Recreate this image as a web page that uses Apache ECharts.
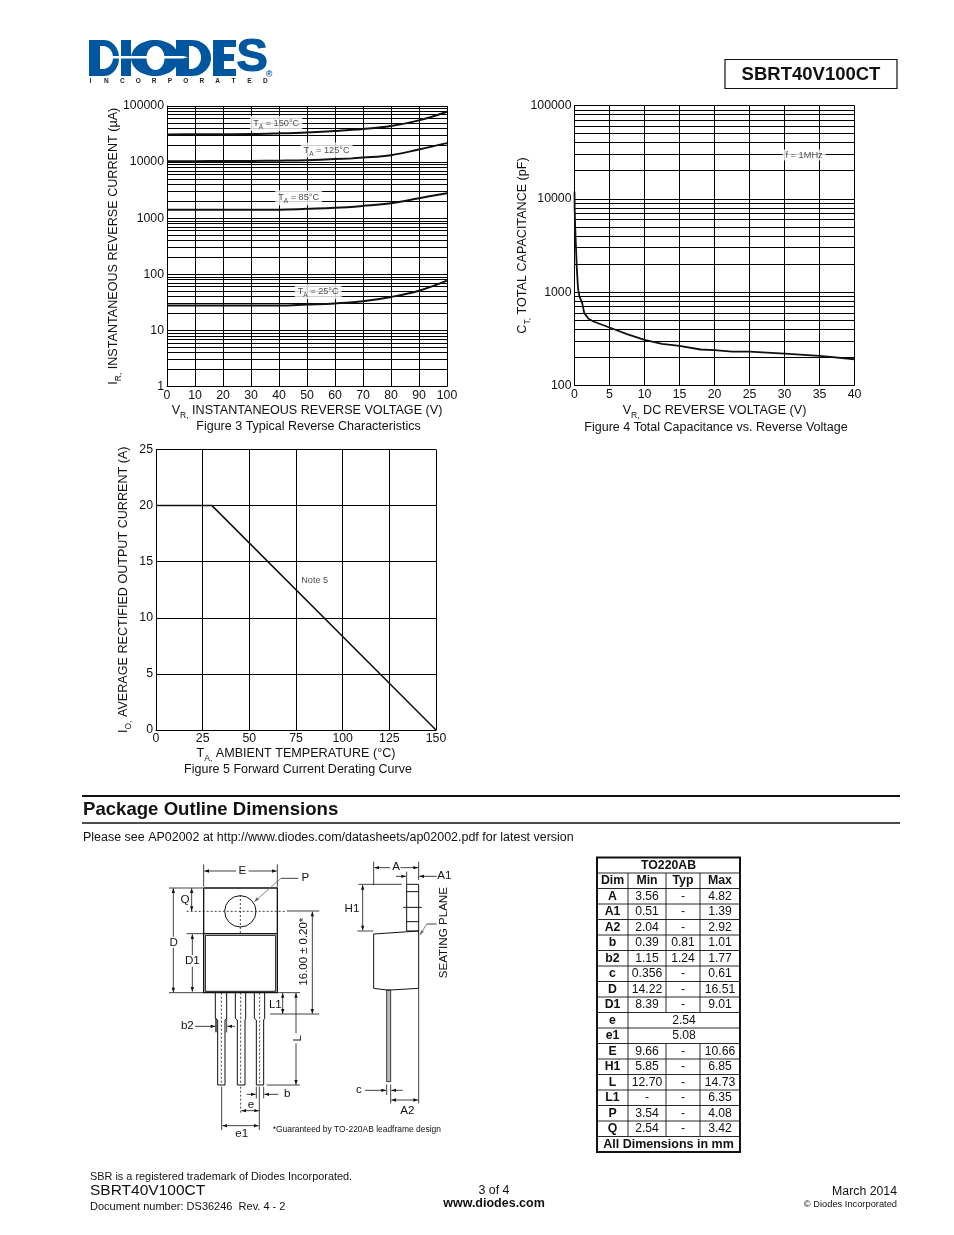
<!DOCTYPE html>
<html><head><meta charset="utf-8">
<style>html,body{margin:0;padding:0;background:#fff}#c{width:954px;height:1235px}</style>
<script src="https://cdn.jsdelivr.net/npm/echarts@6/dist/echarts.min.js"></script>
</head><body><div id="c"></div>
<script>
// ---- Figure 3 data ----
const fig3Volts = [0,10,20,30,40,50,60,70,80,90,100];
const fig3T150 = [31200,31300,31400,31600,32500,33800,35800,38800,44000,55500,79200];
const fig3T125 = [10400,10400,10450,10500,10600,10800,11300,12100,13300,16800,21800];
const fig3T85  = [1410,1410,1410,1410,1420,1470,1530,1660,1850,2275,2795];
const fig3T25  = [27.9,27.9,27.9,27.9,27.9,29,30.3,33,39.4,51,77];
const fig3Labels = [[39,49000,'150'],[57,16400,'125'],[47,2320,'85'],[54,49,'25']];
// ---- Figure 4 data ----
const fig4Volts = [0,0.02,0.1,0.2,0.33,0.5,0.7,1.1,1.4,2,2.7,5,7.5,10,12.5,15,18,20,22.5,25,30,35,40];
const fig4Cap   = [12000,8000,5000,3200,1800,1100,900,763,596,518,485,418,355,308,279,266,243,239,231,231,220,208,191];
const fig4Label = [[32.8,29500,'f = 1MHz']];
// ---- Figure 5 data ----
const fig5Temp = [0,30,150];
const fig5Amps = [20,20,0];
const fig5Label = [[85,13.3,'Note 5']];
// ---- Axis tick text / log grid ----
const minorMultipliers = [2,3,4,5,6,7,8,9];
// ---- Table ----
const tableRows = [
 ['A','3.56','-','4.82'],['A1','0.51','-','1.39'],['A2','2.04','-','2.92'],
 ['b','0.39','0.81','1.01'],['b2','1.15','1.24','1.77'],['c','0.356','-','0.61'],
 ['D','14.22','-','16.51'],['D1','8.39','-','9.01'],['e','2.54'],['e1','5.08'],
 ['E','9.66','-','10.66'],['H1','5.85','-','6.85'],['L','12.70','-','14.73'],
 ['L1','-','-','6.35'],['P','3.54','-','4.08'],['Q','2.54','-','3.42']
];
const FONT = '"Liberation Sans", Arial, sans-serif';
const INK = '#111';
const els = [];
function t(text,x,y,o={}){
  els.push({type:'text',x,y,rotation:o.rot||0,silent:true,z:o.z||50,style:{text,x:0,y:0,
    font:(o.bold?'bold ':'')+(o.size||12)+'px '+FONT,fill:o.color||INK,
    textAlign:o.align||'left',textVerticalAlign:'middle',textBaseline:'middle',
    rich:o.rich}});
}
function seg(pts,o={}){
  els.push({type:'polyline',silent:true,z:o.z||40,shape:{points:pts},
    style:{stroke:o.color||INK,lineWidth:o.w||1,fill:null,lineDash:o.dash||null}});
}
function box(x,y,w,h,o={}){
  els.push({type:'rect',silent:true,z:o.z||40,shape:{x,y,width:w,height:h},
    style:{stroke:o.color===undefined?INK:o.color,lineWidth:o.w||1,fill:o.fill||null}});
}
function poly(points,fill,z){els.push({type:'polygon',silent:true,z:z||40,shape:{points},style:{fill}});}
function dLetter(x0,xf,x1,y0,y1,fill,z){
  const pts=[[x0,y0],[xf,y0]],cy=(y0+y1)/2,ry=(y1-y0)/2;
  for(let k=-12;k<=12;k++){const a=k/12*Math.PI/2;pts.push([xf+(x1-xf)*Math.cos(a),cy+ry*Math.sin(a)]);}
  pts.push([xf,y1],[x0,y1]);poly(pts,fill,z);
}
function oval(cx,cy,rx,ry,fill,z){els.push({type:'ellipse',silent:true,z:z||40,shape:{cx,cy,rx,ry},style:{fill}});}
// --- package drawing, coordinates in 1/3 px around (150,855) ---
const Z=(x,y)=>[150+x/3,855+y/3];
const L=(pts,o)=>seg(pts.map(p=>Z(p[0],p[1])),o);
function A(x1,y1,x2,y2,o={}){
  L([[x1,y1],[x2,y2]],{w:o.w||0.8,color:o.color});
  const a=Math.atan2(y2-y1,x2-x1),s=14,h=5;
  const p=(d,n)=>Z(x2-Math.cos(a)*d-Math.sin(a)*n,y2-Math.sin(a)*d+Math.cos(a)*n);
  els.push({type:'polygon',silent:true,z:41,shape:{points:[Z(x2,y2),p(s,h),p(s,-h)]},style:{fill:o.color||INK}});
}
const ZT=(s,x,y,o={})=>{const p=Z(x,y);t(s,p[0],p[1],Object.assign({align:'center',size:11.6},o));};
const DOT=[2,2];
// front view
L([[161,99],[382,99],[382,413],[161,413],[161,99]],{w:1.3});
L([[161,236],[382,236]],{w:1.3});
L([[166,241],[377,241],[377,409],[166,409],[166,241]],{w:1});
els.push({type:'circle',silent:true,z:40,shape:{cx:Z(271,169)[0],cy:Z(271,169)[1],r:47/3},style:{stroke:INK,lineWidth:1,fill:null}});
L([[110,169],[410,169]],{dash:DOT,w:0.8});
L([[271,120],[271,236]],{dash:DOT,w:0.8});
[[196,230,203,225,214],[256,287,262,285,272],[313,344,319,341,329]].forEach(l=>{
  L([[l[0],413],[l[0],490],[l[2],495],[l[2],690],[l[3],690],[l[3],495],[l[1],490],[l[1],413]],{w:1});
  L([[l[4],413],[l[4],690]],{dash:DOT,w:0.8});
});
L([[272,695],[272,778]],{dash:DOT,w:0.8});
// E
L([[161,28],[161,95]],{w:.8});L([[382,28],[382,95]],{w:.8});
A(258,48,163,48);A(296,48,380,48);ZT('E',277,46);
// P
L([[393,70],[445,70]],{w:.8});A(393,70,313,140,{color:'#666'});ZT('P',466,68);
// D
L([[57,99],[160,99]],{w:.8});L([[57,413],[160,413]],{w:.8});
A(70,245,70,100);A(70,278,70,412);ZT('D',71,262);
// Q D1
A(125,135,125,100);A(125,135,125,168);
ZT('Q',105,135);
L([[110,236],[160,236]],{w:.8});
A(127,300,127,238);A(127,335,127,410);ZT('D1',127,318);
// 16.00
L([[410,168],[508,168]],{w:.8});L([[360,477],[508,477]],{w:.8});
A(487,320,487,170);A(487,320,487,476);
ZT('16.00 ± 0.20*',463,290,{rot:Math.PI/2,size:11.4});
// L1 L
A(398,445,398,414);A(398,445,398,476);ZT('L1',376,448);
L([[385,413],[450,413]],{w:.8});L([[350,690],[450,690]],{w:.8});
A(438,535,438,414);A(438,565,438,689);ZT('L',443,550,{rot:Math.PI/2});
// b2
A(135,514,196,514);A(255,514,232,514);ZT('b2',112,511);
L([[198,490],[198,532]],{w:1.3});L([[230,490],[230,532]],{w:.8});
// b
A(290,718,317,718);A(385,718,343,718);ZT('b',412,715);
L([[319,695],[319,730]],{w:.8});L([[341,695],[341,730]],{w:.8});
// e e1
A(300,767,274,767);A(300,767,327,767);ZT('e',303,748);
L([[328,695],[328,825]],{w:.8});L([[215,695],[215,825]],{w:.8});
A(270,812,217,812);A(270,812,326,812);ZT('e1',275,836);
ZT('*Guaranteed by TO-220AB leadframe design',368,825,{align:'left',size:8.45});
// side view
L([[770,88],[806,88],[806,228],[770,228],[770,88]],{w:1});
L([[770,110],[806,110]],{w:1});L([[770,200],[806,200]],{w:1});L([[760,157],[815,157]],{w:1});
L([[671,237],[806,228],[806,400],[722,405],[710,405],[671,400],[671,237]],{w:1});
els.push({type:'rect',silent:true,z:39,shape:{x:Z(710,0)[0],y:Z(0,405)[1],width:12/3,height:275/3},style:{fill:'#bbb',stroke:INK,lineWidth:.8}});
L([[671,20],[671,90]],{w:.8});L([[806,20],[806,75]],{w:.8});
A(720,38,673,38);A(752,38,804,38);ZT('A',738,35);
A(738,64,768,64);A(860,64,808,64);ZT('A1',883,62);L([[770,50],[770,88]],{w:.8});
L([[625,88],[755,88]],{w:.8});L([[622,228],[670,228]],{w:.8});
A(638,150,638,90);A(638,150,638,226);ZT('H1',606,162);
ZT('SEATING PLANE',880,233,{rot:Math.PI/2});
L([[860,207],[830,207]],{w:.8});A(830,207,810,240,{color:'#666'});
L([[806,400],[806,745]],{w:.8});
A(645,706,708,706);A(758,706,724,706);ZT('c',627,704);
L([[710,688],[710,720]],{w:.8});L([[722,688],[722,745]],{w:.8});
A(760,735,724,735);A(760,735,804,735);ZT('A2',772,768);
// --- table ---
const colX=[597,628,666,700,740], tTop=857.5, rowH=15.5;
const yOf=i=>tTop+i*rowH;
const nRows=tableRows.length+3;
box(colX[0],tTop,colX[4]-colX[0],nRows*rowH,{w:2});
for(let i=1;i<nRows;i++) seg([[colX[0],yOf(i)],[colX[4],yOf(i)]],{w:.9});
const cellC=c=>(colX[c]+colX[c+1])/2;
t('TO220AB',668.5,yOf(0.5),{bold:true,align:'center',size:12.3});
['Dim','Min','Typ','Max'].forEach((s,c)=>{
  t(s,cellC(c),yOf(1.5),{bold:true,align:'center',size:12.3});
  if(c) seg([[colX[c],yOf(1)],[colX[c],yOf(2)]],{w:.9});
});
tableRows.forEach((r,i)=>{
  const cy=yOf(i+2.5);
  t(r[0],cellC(0),cy,{bold:true,align:'center',size:12.3});
  seg([[colX[1],yOf(i+2)],[colX[1],yOf(i+3)]],{w:.9});
  if(r.length===2){
    t(r[1],(colX[1]+colX[4])/2,cy,{align:'center',size:12.2});
  } else for(let c=1;c<=3;c++){
    t(r[c],cellC(c),cy,{align:'center',size:12.2});
    if(c>1) seg([[colX[c],yOf(i+2)],[colX[c],yOf(i+3)]],{w:.9});
  }
});
t('All Dimensions in mm',668.5,yOf(nRows-.5),{bold:true,align:'center',size:12.5});
// --- logo ---
const BLUE='#00569f';
dLetter(89,104,119,40,76,BLUE);
dLetter(100,103,113,46,69,'#fff',41);
poly([[121,40],[131,40],[131,76],[121,76]],BLUE);
oval(155,58,24,18,BLUE);
oval(155.5,58,9,12,'#fff',41);
dLetter(176,192,211,40,76,BLUE);
dLetter(189,191,201,46,69,'#fff',41);
poly([[213,40],[236,40],[236,47],[224,47],[224,54],[234,54],[234,61],[224,61],[224,69],[236,69],[236,76],[213,76]],BLUE);
poly([[100,56],[183,56],[188,57.2],[183,58.5],[100,58.5]],'#fff',42);
els.push({type:'text',x:236.5,y:35,silent:true,z:43,style:{text:'S',x:0,y:0,font:'bold 47px '+FONT,fill:BLUE,stroke:BLUE,lineWidth:1.2}});
'INCORPORATED'.split('').forEach((ch,i)=>t(ch,90.5+15.9*i,81.5,{bold:true,size:6.5,color:'#222',align:'center'}));
t('®',269,75,{bold:true,size:9,color:BLUE,align:'center'});
// --- page furniture ---
box(725,59.5,172,29,{w:1.2});
t('SBRT40V100CT',811,75,{bold:true,size:18.5,align:'center'});
seg([[82,796],[900,796]],{w:2});seg([[82,823],[900,823]],{w:1.4});
t('Package Outline Dimensions',83,810,{bold:true,size:18.6});
t('Please see AP02002 at http://www.diodes.com/datasheets/ap02002.pdf for latest version',83,837.5,{size:12.47});
t('SBR is a registered trademark of Diodes Incorporated.',90,1176.5,{size:10.9});
t('SBRT40V100CT',90,1191,{size:15.5});
t('Document number: DS36246  Rev. 4 - 2',90,1206.5,{size:11});
t('3 of 4',494,1190.5,{size:12.4,align:'center'});
t('www.diodes.com',494,1204,{size:12.5,bold:true,align:'center'});
t('March 2014',897,1192,{size:12.3,align:'right'});
t('© Diodes Incorporated',897,1204,{size:9.3,align:'right'});
// --- charts ---
const pair=(xs,ys)=>xs.map((x,i)=>[x,ys[i]]);
const axisText={color:INK,fontFamily:FONT,fontSize:12.3};
const lineBlack={lineStyle:{color:'#000',width:1}};
const rich={m:{fontFamily:FONT,fontSize:12.6,color:INK,lineHeight:15,verticalAlign:'middle'},
            s:{fontFamily:FONT,fontSize:8.5,color:INK,lineHeight:19,verticalAlign:'bottom'}};
function mkX(i,max,interval,name,gap){return {gridIndex:i,type:'value',min:0,max,interval,name,nameLocation:'middle',nameGap:gap,nameMoveOverlap:false,
  nameTextStyle:{rich,color:INK},axisLine:{show:true,lineStyle:{color:'#000',width:1}},axisTick:{show:false},
  axisLabel:Object.assign({margin:3,showMinLabel:true,showMaxLabel:true},axisText),splitLine:Object.assign({show:true},lineBlack),minorSplitLine:{show:false}};}
function mkY(i,opt,name,gap,margin){return Object.assign({gridIndex:i,name,nameLocation:'middle',nameGap:gap,nameMoveOverlap:false,
  nameTextStyle:{rich,color:INK},axisLine:{show:true,lineStyle:{color:'#000',width:1}},axisTick:{show:false},
  axisLabel:Object.assign({margin,showMinLabel:true,showMaxLabel:true,formatter:v=>String(Math.round(v))},axisText),splitLine:Object.assign({show:true},lineBlack)},opt);}
function logMinor(from,to){const d=[];for(let p=from;p<to;p++)minorMultipliers.forEach(m=>d.push({yAxis:m*Math.pow(10,p)}));return d;}
function curve(i,data,smooth,extra,w){return Object.assign({type:'line',xAxisIndex:i,yAxisIndex:i,data,showSymbol:false,symbol:'none',smooth,
  lineStyle:{color:'#111',width:w||2},silent:true,animation:false,z:5,clip:true},extra||{});}
function minorLines(d){return {markLine:{silent:true,symbol:'none',animation:false,label:{show:false},lineStyle:{color:'#000',width:1,type:'solid'},data:d,z:1}};}
const labelRich={a:{fontFamily:FONT,fontSize:9.2,color:'#222',lineHeight:11,verticalAlign:'middle'},
                 b:{fontFamily:FONT,fontSize:6.5,color:'#222',lineHeight:15,verticalAlign:'bottom'}};
function tags(i,data,fmt,bg){return {type:'scatter',xAxisIndex:i,yAxisIndex:i,data,symbolSize:0,silent:true,animation:false,z:8,
  label:{show:true,position:'inside',formatter:p=>fmt(p.data[2]),rich:labelRich,fontFamily:FONT,fontSize:9,color:'#222',
    backgroundColor:bg?'#fff':'transparent',padding:[0,3,0,3]}};}
const option={
  backgroundColor:'#fff',animation:false,
  title:[
    {text:'Figure 3 Typical Reverse Characteristics',left:308.5,top:420,textAlign:'center',textStyle:{fontFamily:FONT,fontSize:12.5,fontWeight:'normal',color:INK},padding:0},
    {text:'Figure 4 Total Capacitance vs. Reverse Voltage',left:716,top:421,textAlign:'center',textStyle:{fontFamily:FONT,fontSize:12.5,fontWeight:'normal',color:INK},padding:0},
    {text:'Figure 5 Forward Current Derating Curve',left:298,top:763,textAlign:'center',textStyle:{fontFamily:FONT,fontSize:12.5,fontWeight:'normal',color:INK},padding:0}
  ],
  grid:[
    {left:167,top:106,width:280,height:280.5,containLabel:false},
    {left:574.5,top:105.5,width:280,height:280,containLabel:false},
    {left:156,top:449.5,width:280,height:280.5,containLabel:false}
  ],
  xAxis:[
    mkX(0,100,10,'{m|V}{s|R,}{m| INSTANTANEOUS REVERSE VOLTAGE (V)}',15),
    mkX(1,40,5,'{m|V}{s|R,}{m| DC REVERSE VOLTAGE (V)}',16),
    mkX(2,150,25,'{m|T}{s|A,}{m| AMBIENT TEMPERATURE (°C)}',14)
  ],
  yAxis:[
    mkY(0,{type:'log',logBase:10,min:1,max:100000},'{m|I}{s|R,}{m| INSTANTANEOUS REVERSE CURRENT (µA)}',44,3),
    mkY(1,{type:'log',logBase:10,min:100,max:100000},'{m|C}{s|T,}{m| TOTAL CAPACITANCE (pF)}',42,3),
    mkY(2,{type:'value',min:0,max:25,interval:5},'{m|I}{s|O,}{m| AVERAGE RECTIFIED OUTPUT CURRENT (A)}',23,3)
  ],
  series:[
    curve(0,pair(fig3Volts,fig3T150),0.4,minorLines(logMinor(0,5))),
    curve(0,pair(fig3Volts,fig3T125),0.4),
    curve(0,pair(fig3Volts,fig3T85),0.4),
    curve(0,pair(fig3Volts,fig3T25),0.4),
    tags(0,fig3Labels,v=>'{a|T}{b|A}{a| = '+v+'°C}',true),
    curve(1,pair(fig4Volts,fig4Cap),0,minorLines(logMinor(2,5)),1.8),
    tags(1,fig4Label,v=>'{a|'+v+'}',true),
    curve(2,pair(fig5Temp,fig5Amps),0,null,1.5),
    tags(2,fig5Label,v=>'{a|'+v+'}',true)
  ],
  graphic:{elements:els}
};
const chart=echarts.init(document.getElementById('c'),null,{renderer:'canvas',width:954,height:1235});
chart.setOption(option);
</script></body></html>
